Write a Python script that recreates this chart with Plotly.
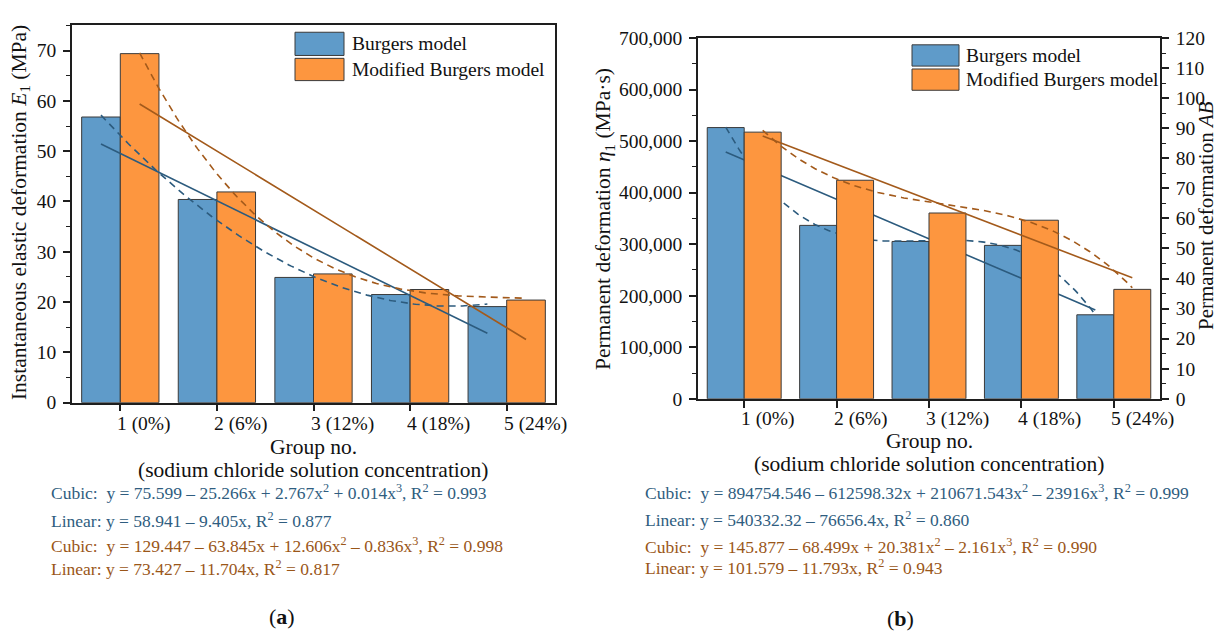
import numpy as np
import plotly.graph_objects as go
from numpy.polynomial import polynomial as P

W, H = 1219, 639
FONT = "Liberation Serif"

# ---- data -------------------------------------------------------------
groups = [1, 2, 3, 4, 5]
group_labels = ["1 (0%)", "2 (6%)", "3 (12%)", "4 (18%)", "5 (24%)"]
series_names = ["Burgers model", "Modified Burgers model"]

# (a) instantaneous elastic deformation E1 (MPa)
e1_burgers = [56.8, 40.4, 24.9, 21.5, 19.1]
e1_modified = [69.4, 41.9, 25.6, 22.5, 20.4]

# (b) permanent deformation: eta1 (MPa·s) for Burgers, AB for modified Burgers
eta1_burgers = [526300, 336500, 305300, 297700, 163000]
ab_modified = [88.7, 72.7, 61.8, 59.4, 36.4]

# regression coefficients (constant term first) and R^2
a_burgers_cubic = [75.599, -25.266, 2.767, 0.014]
a_burgers_linear = [58.941, -9.405]
a_modified_cubic = [129.447, -63.845, 12.606, -0.836]
a_modified_linear = [73.427, -11.704]
a_r2 = [0.993, 0.877, 0.998, 0.817]

b_burgers_cubic = [894754.546, -612598.32, 210671.543, -23916]
b_burgers_linear = [540332.32, -76656.4]
b_modified_cubic = [145.877, -68.499, 20.381, -2.161]
b_modified_linear = [101.579, -11.793]
b_r2 = [0.999, 0.860, 0.990, 0.943]

# ---- style ------------------------------------------------------------
BLUE_BAR = "#5f9bc9"
ORANGE_BAR = "#fd963f"
BAR_EDGE = "#3a3a3a"
BLUE_FIT = "#2c5b7e"
ORANGE_FIT = "#a35a1b"
BLUE_TXT = "#2f5d80"
ORANGE_TXT = "#9a5618"
AXIS = "#1e1e1e"
BAR_W = 0.4

pos = np.array(groups, dtype=float)
blue_pos = pos - BAR_W / 2
orange_pos = pos + BAR_W / 2


def fit_curve(coeffs, centers):
    xs = np.linspace(centers[0], centers[-1], 200)
    return xs, P.polyval(xs, coeffs)


def equation(kind, coeffs, r2):
    parts = [str(coeffs[0])]
    for k, c in enumerate(coeffs[1:], start=1):
        sign = "\u2013" if c < 0 else "+"
        power = "" if k == 1 else f"<sup>{k}</sup>"
        parts.append(f"{sign} {abs(c)}x{power}")
    head = "Cubic:\u00a0 y = " if kind == "Cubic" else "Linear: y = "
    return head + " ".join(parts) + f", R<sup>2</sup> = {r2:.3f}"


fig = go.Figure()


def add_bars(values, offset, color, name, xa, ya):
    fig.add_trace(go.Bar(
        x=groups, y=values, width=BAR_W, offset=offset, name=name,
        marker=dict(color=color, line=dict(color=BAR_EDGE, width=1)),
        xaxis=xa, yaxis=ya, showlegend=False))


def add_fit(coeffs, centers, color, dashed, xa, ya):
    xs, ys = fit_curve(coeffs, centers)
    fig.add_trace(go.Scatter(
        x=xs, y=ys, mode="lines", xaxis=xa, yaxis=ya, showlegend=False,
        line=dict(color=color, width=1.6, dash="7px,5px" if dashed else "solid"),
        hoverinfo="skip"))


# panel (a)
add_bars(e1_burgers, -BAR_W, BLUE_BAR, series_names[0], "x", "y")
add_bars(e1_modified, 0, ORANGE_BAR, series_names[1], "x", "y")
add_fit(a_burgers_cubic, blue_pos, BLUE_FIT, True, "x", "y")
add_fit(a_burgers_linear, blue_pos, BLUE_FIT, False, "x", "y")
add_fit(a_modified_cubic, orange_pos, ORANGE_FIT, True, "x", "y")
add_fit(a_modified_linear, orange_pos, ORANGE_FIT, False, "x", "y")

# panel (b): Burgers on the left axis, modified Burgers on the right axis
add_bars(eta1_burgers, -BAR_W, BLUE_BAR, series_names[0], "x2", "y3")
add_fit(b_burgers_cubic, blue_pos, BLUE_FIT, True, "x2", "y3")
add_fit(b_burgers_linear, blue_pos, BLUE_FIT, False, "x2", "y3")
add_bars(ab_modified, 0, ORANGE_BAR, series_names[1], "x2", "y4")
add_fit(b_modified_cubic, orange_pos, ORANGE_FIT, True, "x2", "y4")
add_fit(b_modified_linear, orange_pos, ORANGE_FIT, False, "x2", "y4")

# ---- axes -------------------------------------------------------------
def px(x):
    return x / W


def py(y):
    return 1 - y / H


tickfont = dict(family=FONT, size=19.5, color="#111")
common_x = dict(range=[0.5, 5.5], tickvals=groups, showticklabels=False,
                ticks="outside", ticklen=7, tickwidth=1.5, tickcolor=AXIS,
                showline=True, linecolor=AXIS, linewidth=1.5, mirror=True,
                showgrid=False, zeroline=False, fixedrange=True)
common_y = dict(ticks="outside", ticklen=7, tickwidth=1.5, tickcolor=AXIS,
                showline=True, linecolor=AXIS, linewidth=1.5,
                showgrid=False, zeroline=False, tickfont=tickfont, ticklabelstandoff=3)

A_L, A_R, A_T, A_B = 72, 555, 16, 406
B_L, B_R, B_T, B_B = 698, 1160, 29, 402

fig.update_layout(
    width=W, height=H, margin=dict(l=0, r=0, t=0, b=0),
    paper_bgcolor="white", plot_bgcolor="white", barmode="overlay",
    font=dict(family=FONT, color="#111"),
    xaxis=dict(domain=[px(A_L), px(A_R)], anchor="y", **common_x),
    yaxis=dict(domain=[py(A_B), py(A_T)], anchor="x", range=[0, 75],
               tick0=0, dtick=10, mirror=True,
               minor=dict(dtick=5, ticks="outside", ticklen=4, tickwidth=1.2, tickcolor=AXIS),
               **common_y),
    xaxis2=dict(domain=[px(B_L), px(B_R)], anchor="y3", **common_x),
    yaxis3=dict(domain=[py(B_B), py(B_T)], anchor="x2", range=[0, 700000],
                tick0=0, dtick=100000, tickformat=",",
                minor=dict(dtick=50000, ticks="outside", ticklen=4, tickwidth=1.2, tickcolor=AXIS),
                **common_y),
    yaxis4=dict(overlaying="y3", side="right", anchor="x2", range=[0, 120],
                tick0=0, dtick=10,
                minor=dict(dtick=5, ticks="outside", ticklen=4, tickwidth=1.2, tickcolor=AXIS),
                **common_y),
)

annotations = []
shapes = []

# category labels, left-aligned at each group tick
for xa, ypix in (("x", A_B + 22), ("x2", B_B + 21)):
    for g, lab in zip(groups, group_labels):
        annotations.append(dict(x=g, xref=xa, y=py(ypix), yref="paper", text=lab,
                                xanchor="left", yanchor="middle", xshift=-5,
                                showarrow=False, font=dict(family=FONT, size=19.5, color="#111")))

title_font = dict(family=FONT, size=21.5, color="#111")


def text(x, y, s, font, **kw):
    annotations.append(dict(x=px(x), y=py(y), xref="paper", yref="paper", text=s,
                            showarrow=False, font=font, **kw))


# x-axis titles
for cx, y1, y2 in (((A_L + A_R) / 2, 452, 476), ((B_L + B_R) / 2, 446, 469)):
    text(cx, y1, "Group no.", title_font, xanchor="center", yanchor="middle")
    text(cx, y2, "(sodium chloride solution concentration)", title_font,
         xanchor="center", yanchor="middle")

# y-axis titles
text(20, 210, "Instantaneous elastic deformation <i>E</i><sub>1</sub> (MPa)", title_font,
     textangle=-90, xanchor="center", yanchor="middle")
text(605, 216, "Permanent deformation <i>\u03b7</i><sub>1</sub> (MPa\u00b7s)", title_font,
     textangle=-90, xanchor="center", yanchor="middle")
text(1206, 213, "Permanent deformation <i>AB</i>", dict(family=FONT, size=21, color="#111"),
     textangle=-90, xanchor="center", yanchor="middle")

# regression equations
eq_font = 17.5
for x0, ys, fits, r2s in (
    (49, (498, 527, 553, 577),
     (a_burgers_cubic, a_burgers_linear, a_modified_cubic, a_modified_linear), a_r2),
    (643, (498, 526, 554, 576),
     (b_burgers_cubic, b_burgers_linear, b_modified_cubic, b_modified_linear), b_r2),
):
    kinds = ("Cubic", "Linear", "Cubic", "Linear")
    colors = (BLUE_TXT, BLUE_TXT, ORANGE_TXT, ORANGE_TXT)
    for yy, kind, coeffs, r2, col in zip(ys, kinds, fits, r2s, colors):
        text(x0, yy, equation(kind, coeffs, r2), dict(family=FONT, size=eq_font, color=col),
             xanchor="left", yanchor="middle")

# panel tags
text(282, 627, "(<b>a</b>)", dict(family=FONT, size=22, color="#111"),
     xanchor="center", yanchor="middle")
text(900, 629, "(<b>b</b>)", dict(family=FONT, size=22, color="#111"),
     xanchor="center", yanchor="middle")

# legends: colour swatches with labels
for (sx0, sx1, rows, tx) in (
    (295, 344, ((23, 47), (50, 73)), 350),
    (912, 959, ((36, 58), (61, 83)), 964),
):
    for (y0, y1), color, name in zip(rows, (BLUE_BAR, ORANGE_BAR), series_names):
        shapes.append(dict(type="rect", xref="paper", yref="paper",
                           x0=px(sx0), x1=px(sx1), y0=py(y1), y1=py(y0),
                           fillcolor=color, line=dict(color=BAR_EDGE, width=1)))
        text(tx, (y0 + y1) / 2, name, dict(family=FONT, size=19.5, color="#111"),
             xanchor="left", yanchor="middle")

fig.update_layout(annotations=annotations, shapes=shapes)
fig.write_html("out.html")
